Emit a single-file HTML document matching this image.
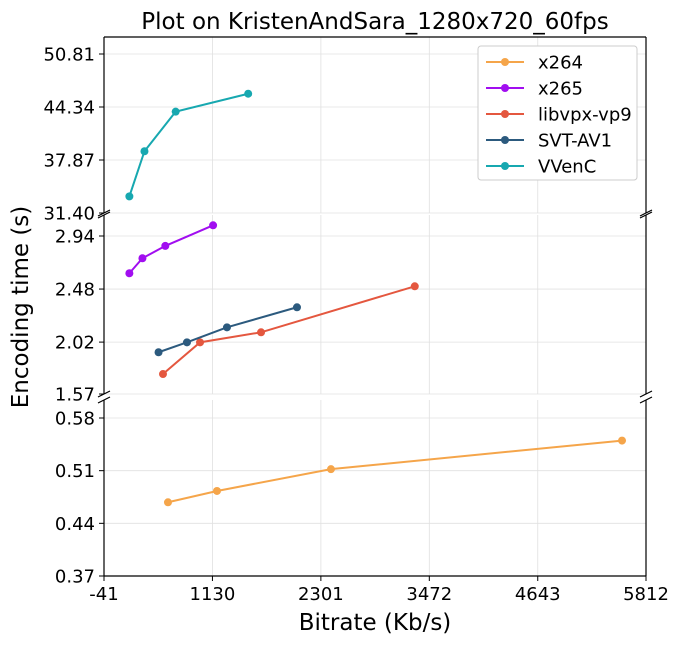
<!DOCTYPE html>
<html><head><meta charset="utf-8"><style>
body{margin:0;background:#fff;font-family:"Liberation Sans","DejaVu Sans",sans-serif;}
svg text{font-family:"DejaVu Sans","Liberation Sans",sans-serif;}
</style></head><body>
<svg id="chart" width="681" height="644" viewBox="0 0 681 644" xmlns="http://www.w3.org/2000/svg">
<text x="375" y="29" font-size="23" text-anchor="middle">Plot on KristenAndSara_1280x720_60fps</text>
<text x="0" y="0" font-size="23" text-anchor="middle" transform="translate(28,307) rotate(-90)">Encoding time (s)</text>
<text x="375" y="630" font-size="23" text-anchor="middle">Bitrate (Kb/s)</text>
<g id="grid"></g><g id="axes"></g><g id="series"></g><g id="legend"></g>
</svg>
<script>
const xTicks=[-41,1130,2301,3472,4643,5812];
const topTicks=[31.40,37.87,44.34,50.81];
const midTicks=[1.57,2.02,2.48,2.94];
const botTicks=[0.37,0.44,0.51,0.58];
const names=["x264","x265","libvpx-vp9","SVT-AV1","VVenC"];
const colors=["#f5a54a","#a10ef0","#e4573f","#2c5a7e","#17a8b0"];
const x264X=[650,1179,2410,5553], x264Y=[0.468,0.483,0.512,0.550];
const x265X=[233,374,621,1137], x265Y=[2.617,2.747,2.854,3.033];
const vp9X=[596,996,1655,3315], vp9Y=[1.743,2.018,2.105,2.504];
const svtX=[548,855,1287,2043], svtY=[1.932,2.018,2.148,2.322];
const vvcX=[233,396,733,1516], vvcY=[33.43,38.94,43.77,45.96];

const NS="http://www.w3.org/2000/svg";
const L=104,R=646;
const xs=v=>L+(v-xTicks[0])/(xTicks[5]-xTicks[0])*(R-L);
const panels=[
 {name:"top",ticks:topTicks,y0:213,y1:54,top:37,bot:213},
 {name:"middle",ticks:midTicks,y0:394,y1:236,top:215,bot:394},
 {name:"bottom",ticks:botTicks,y0:576,y1:418,top:400,bot:576}
];
panels.forEach(p=>{p.ys=v=>p.y0+(v-p.ticks[0])/(p.ticks[3]-p.ticks[0])*(p.y1-p.y0);});
function mk(tag,attrs,parent){const e=document.createElementNS(NS,tag);for(const k in attrs)e.setAttribute(k,attrs[k]);parent.appendChild(e);return e;}
const grid=document.getElementById('grid'),axes=document.getElementById('axes'),ser=document.getElementById('series'),leg=document.getElementById('legend');
panels.forEach((p,pi)=>{
 xTicks.forEach(t=>{const l=mk('line',{x1:xs(t),x2:xs(t),y1:p.top,y2:p.bot,stroke:'#e0e0e0','stroke-width':0.8},grid);
  
  });
 p.ticks.forEach(t=>{const y=p.ys(t);
  const l=mk('line',{x1:L,x2:R,y1:y,y2:y,stroke:'#e0e0e0','stroke-width':0.8},grid);
  
  
  mk('line',{x1:L-5,x2:L,y1:y,y2:y,stroke:'#000','stroke-width':1},axes);
  const tx=mk('text',{x:L-9,y:y+6.5,'font-size':18,'text-anchor':'end'},axes);tx.textContent=t.toFixed(2);
  
  });
 mk('line',{x1:L,x2:L,y1:p.top,y2:p.bot,stroke:'#000','stroke-width':1.2},axes);
 mk('line',{x1:R,x2:R,y1:p.top,y2:p.bot,stroke:'#000','stroke-width':1.2},axes);
 if(pi==0)mk('line',{x1:L,x2:R,y1:p.top,y2:p.top,stroke:'#000','stroke-width':1.2},axes);
 if(pi==2)mk('line',{x1:L,x2:R,y1:p.bot,y2:p.bot,stroke:'#000','stroke-width':1.2},axes);
 [[pi>0,p.top],[pi<2,p.bot]].forEach(([on,y])=>{if(!on)return;[L,R].forEach(x=>{
  mk('line',{x1:x-6,x2:x+6,y1:y+3,y2:y-3,stroke:'#000','stroke-width':1.2},axes);});});
});
xTicks.forEach(t=>{const x=xs(t);mk('line',{x1:x,x2:x,y1:576,y2:581,stroke:'#000'},axes);
 const tx=mk('text',{x:x,y:600,'font-size':18,'text-anchor':'middle'},axes);tx.textContent=t;
 
 });
const data=[[x264X,x264Y,2],[x265X,x265Y,1],[vp9X,vp9Y,1],[svtX,svtY,1],[vvcX,vvcY,0]];
data.forEach(([X,Y,pi],si)=>{const p=panels[pi];
 const pts=X.map((x,i)=>xs(x)+','+p.ys(Y[i])).join(' ');
 const g=mk('g',{},ser);
 
 
 mk('polyline',{points:pts,fill:'none',stroke:colors[si],'stroke-width':2},g);
 X.forEach((x,i)=>{const c=mk('circle',{cx:xs(x),cy:p.ys(Y[i]),r:4,fill:colors[si]},g);
  
  });
});
mk('rect',{x:478,y:46,width:159,height:134,rx:3,fill:'#fff',stroke:'#ccc'},leg);
names.forEach((n,i)=>{const y=62+i*26;
 const g=mk('g',{},leg);
 
 
 mk('line',{x1:486,x2:524,y1:y,y2:y,stroke:colors[i],'stroke-width':2},g);
 mk('circle',{cx:505,cy:y,r:4,fill:colors[i]},g);
 const t=mk('text',{x:538,y:y+6.5,'font-size':18},g);t.textContent=n;});
</script>
</body></html>
